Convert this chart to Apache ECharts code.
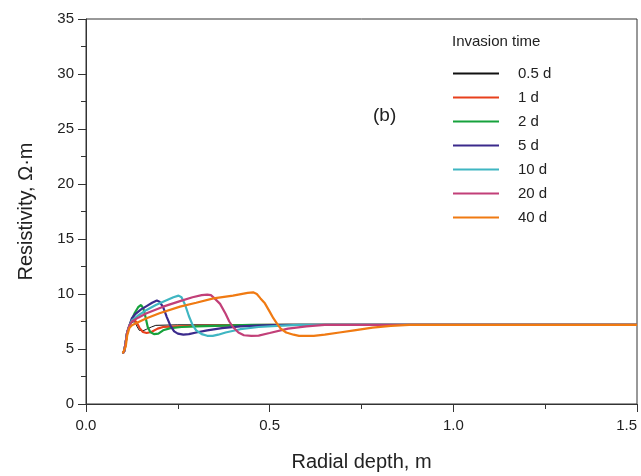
<!DOCTYPE html>
<html>
<head>
<meta charset="utf-8">
<script src="https://cdn.jsdelivr.net/npm/echarts@6/dist/echarts.min.js"></script>
<style>
  html, body { margin: 0; padding: 0; background: #fff; }
  #chart { width: 641px; height: 476px; }
</style>
</head>
<body>
<div id="chart"></div>
<script>
// radial depth (m) vs resistivity (ohm.m)
const names = ['0.5 d', '1 d', '2 d', '5 d', '10 d', '20 d', '40 d'];
const colors = ['#111111', '#e8401c', '#16a23c', '#3b2a8c', '#3fb6c2', '#c23f78', '#f07a12'];
const widths = [1, 2.2, 2.2, 2.2, 2.2, 2.2, 2.2];

const d05 = [[0.100, 4.6], [0.104, 4.8], [0.108, 5.6], [0.112, 6.5], [0.118, 7.1], [0.125, 7.4], [0.132, 7.5],
  [0.138, 7.1], [0.145, 6.7], [0.155, 6.65], [0.165, 6.8], [0.178, 7.0], [0.19, 7.15], [0.25, 7.2], [0.5, 7.2], [1.0, 7.2], [1.5, 7.2]];
const d1 = [[0.100, 4.6], [0.104, 4.8], [0.108, 5.6], [0.112, 6.5], [0.118, 7.1], [0.124, 7.5], [0.13, 7.7],
  [0.138, 7.4], [0.146, 6.9], [0.155, 6.55], [0.165, 6.45], [0.178, 6.55], [0.195, 6.85], [0.21, 7.0], [0.25, 7.05],
  [0.3, 7.1], [0.4, 7.15], [0.5, 7.2], [1.0, 7.2], [1.5, 7.2]];
const d2 = [[0.100, 4.6], [0.104, 4.8], [0.108, 5.6], [0.112, 6.5], [0.118, 7.1], [0.125, 7.7], [0.133, 8.3],
  [0.142, 8.8], [0.150, 9.0], [0.156, 8.7], [0.162, 7.9], [0.168, 7.0], [0.175, 6.55], [0.185, 6.35], [0.197, 6.4],
  [0.21, 6.7], [0.23, 6.9], [0.26, 7.0], [0.3, 7.05], [0.35, 7.1], [0.45, 7.2], [1.0, 7.2], [1.5, 7.2]];
const d5 = [[0.100, 4.6], [0.104, 4.8], [0.108, 5.6], [0.112, 6.5], [0.118, 7.1], [0.125, 7.8], [0.135, 8.2],
  [0.15, 8.6], [0.165, 8.9], [0.18, 9.2], [0.193, 9.4], [0.2, 9.3], [0.21, 8.8], [0.22, 7.9], [0.23, 7.1], [0.24, 6.6],
  [0.25, 6.4], [0.265, 6.3], [0.28, 6.35], [0.3, 6.5], [0.33, 6.7], [0.37, 6.9], [0.42, 7.05], [0.48, 7.15],
  [0.55, 7.2], [1.0, 7.2], [1.5, 7.2]];
const d10 = [[0.100, 4.6], [0.104, 4.8], [0.108, 5.6], [0.112, 6.5], [0.118, 7.1], [0.125, 7.6], [0.14, 8.0],
  [0.165, 8.55], [0.19, 9.0], [0.21, 9.3], [0.238, 9.7], [0.252, 9.85], [0.26, 9.7], [0.27, 9.0], [0.28, 8.0],
  [0.29, 7.2], [0.3, 6.7], [0.315, 6.35], [0.33, 6.2], [0.345, 6.2], [0.36, 6.3], [0.38, 6.5], [0.42, 6.8],
  [0.47, 7.0], [0.52, 7.1], [0.58, 7.2], [1.0, 7.2], [1.5, 7.2]];
const d20 = [[0.100, 4.6], [0.104, 4.8], [0.108, 5.6], [0.112, 6.5], [0.118, 7.1], [0.125, 7.5], [0.142, 7.85],
  [0.165, 8.25], [0.21, 8.85], [0.256, 9.35], [0.29, 9.7], [0.315, 9.9], [0.33, 9.95], [0.34, 9.9], [0.35, 9.6],
  [0.365, 9.1], [0.38, 8.2], [0.39, 7.5], [0.4, 7.0], [0.415, 6.5], [0.43, 6.25], [0.45, 6.2], [0.47, 6.22],
  [0.5, 6.45], [0.55, 6.85], [0.6, 7.05], [0.65, 7.2], [1.0, 7.2], [1.5, 7.2]];
const d40 = [[0.100, 4.6], [0.104, 4.7], [0.108, 5.2], [0.112, 6.2], [0.118, 6.9], [0.125, 7.15], [0.133, 7.3],
  [0.165, 7.8], [0.2, 8.25], [0.256, 8.85], [0.3, 9.2], [0.347, 9.6], [0.4, 9.85], [0.44, 10.1], [0.455, 10.15],
  [0.465, 10.0], [0.475, 9.6], [0.487, 9.15], [0.5, 8.4], [0.51, 7.8], [0.52, 7.3], [0.53, 6.85], [0.545, 6.5],
  [0.565, 6.3], [0.58, 6.2], [0.62, 6.2], [0.65, 6.3], [0.69, 6.5], [0.73, 6.7], [0.78, 6.95], [0.83, 7.1],
  [0.88, 7.2], [1.0, 7.2], [1.5, 7.2]];
const curves = [d05, d1, d2, d5, d10, d20, d40];

const font = 'Liberation Sans, Arial, sans-serif';
const txt = '#222';

const series = curves.map((pts, i) => {
  return {
    name: names[i],
    type: 'line',
    data: pts,
    symbol: 'none',
    color: colors[i],
    lineStyle: { color: colors[i], width: widths[i] }
  };
});

const chart = echarts.init(document.getElementById('chart'), null, { renderer: 'canvas' });
chart.setOption({
  animation: false,
  backgroundColor: '#fff',
  grid: {
    left: 86, right: 4, top: 19, bottom: 72,
    outerBoundsMode: 'none',
    containLabel: false,
    show: true, borderColor: '#333', borderWidth: 1, backgroundColor: 'transparent'
  },
  legend: {
    orient: 'vertical',
    left: 452,
    top: 66,
    padding: 0,
    itemWidth: 46,
    itemHeight: 14,
    itemGap: 9,
    itemStyle: { opacity: 0 },
    data: names,
    textStyle: { fontFamily: font, fontSize: 15, color: txt, padding: [0, 0, 0, 14] }
  },
  graphic: [
    { type: 'text', left: 452, top: 34, style: { text: 'Invasion time', fontFamily: font, fontSize: 15, fill: txt } },
    { type: 'text', left: 373, top: 106, style: { text: '(b)', fontFamily: font, fontSize: 19, fill: txt } }
  ],
  xAxis: {
    type: 'value',
    min: 0, max: 1.5, interval: 0.5,
    name: 'Radial depth, m',
    nameLocation: 'middle',
    nameGap: 48,
    nameTextStyle: { fontFamily: font, fontSize: 20, color: txt },
    axisLine: { onZero: false, lineStyle: { color: '#333', width: 1 } },
    axisTick: { inside: false, length: 8, lineStyle: { color: '#333' } },
    minorTick: { show: true, splitNumber: 2, length: 5, lineStyle: { color: '#333' } },
    splitLine: { show: false },
    axisLabel: {
      margin: 14, fontFamily: font, fontSize: 15, color: txt,
      alignMaxLabel: 'right',
      formatter: v => v.toFixed(1)
    }
  },
  yAxis: {
    type: 'value',
    min: 0, max: 35, interval: 5,
    name: 'Resistivity, Ω·m',
    nameLocation: 'middle',
    nameGap: 50,
    nameTextStyle: { fontFamily: font, fontSize: 20, color: txt },
    axisLine: { show: true, lineStyle: { color: '#333', width: 1 } },
    axisTick: { inside: false, length: 8, lineStyle: { color: '#333' } },
    minorTick: { show: true, splitNumber: 2, length: 5, lineStyle: { color: '#333' } },
    splitLine: { show: false },
    axisLabel: { margin: 12, fontFamily: font, fontSize: 15, color: txt }
  },
  series: series
});
</script>
</body>
</html>
